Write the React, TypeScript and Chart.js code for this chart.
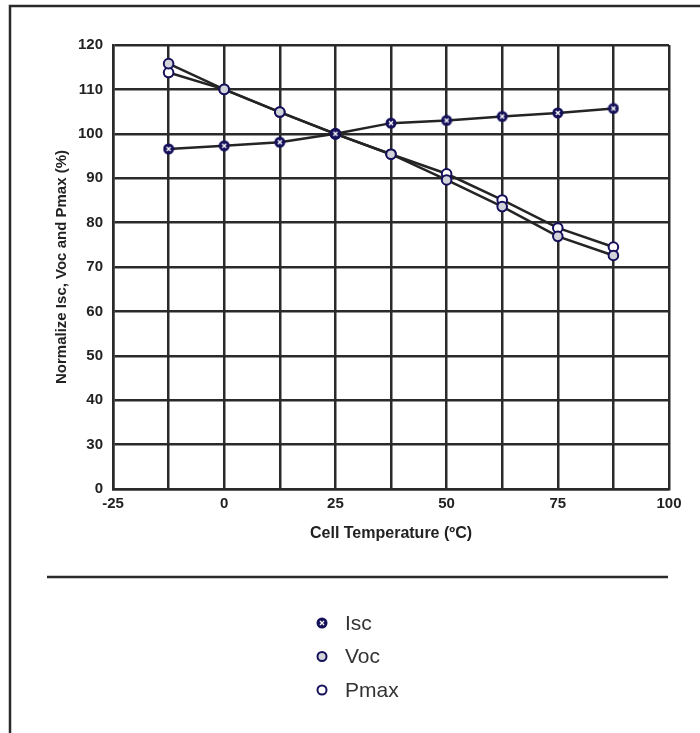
import React, { useEffect, useRef } from 'react';
import { Chart, registerables } from 'chart.js';

Chart.register(...registerables);

// ---- data ----
const temperatures = [-12.5, 0, 12.5, 25, 37.5, 50, 62.5, 75, 87.5];
const iscValues = [96.6, 97.3, 98.1, 100, 102.4, 103.0, 103.9, 104.7, 105.7];
const vocValues = [115.8, 110, 104.9, 100, 95.4, 89.6, 83.6, 76.9, 72.6];
const pmaxValues = [113.8, 110, 104.9, 100, 95.4, 91.0, 85.1, 78.8, 74.5];
const seriesLabels = ['Isc', 'Voc', 'Pmax'];
const xTickLabels = ['-25', '', '0', '', '25', '', '50', '', '75', '', '100'];
const yTickLabels = ['0', '30', '40', '50', '60', '70', '80', '90', '100', '110', '120'];

const FONT = '"Liberation Sans", Arial, Helvetica, sans-serif';
const NAVY = '#15105a';
const LINE = '#242424';
const GRID = '#2a2a2a';

function makeIscMarker(): HTMLCanvasElement {
  const c = document.createElement('canvas');
  c.width = 12;
  c.height = 12;
  const g = c.getContext('2d')!;
  g.fillStyle = NAVY;
  g.beginPath();
  g.arc(6, 6, 5.5, 0, Math.PI * 2);
  g.fill();
  g.strokeStyle = '#ffffff';
  g.lineWidth = 1.4;
  g.beginPath();
  g.moveTo(4, 4);
  g.lineTo(8, 8);
  g.moveTo(8, 4);
  g.lineTo(4, 8);
  g.stroke();
  return c;
}

const framePlugin = {
  id: 'frame',
  beforeDraw(chart: any) {
    const ctx = chart.ctx;
    ctx.save();
    ctx.fillStyle = '#ffffff';
    ctx.fillRect(0, 0, chart.width, chart.height);
    ctx.strokeStyle = '#2a2a2a';
    ctx.lineWidth = 2.5;
    ctx.beginPath();
    ctx.moveTo(10, chart.height);
    ctx.lineTo(10, 6);
    ctx.lineTo(chart.width, 6);
    ctx.stroke();
    ctx.beginPath();
    ctx.moveTo(47, 577);
    ctx.lineTo(668, 577);
    ctx.stroke();
    ctx.restore();
  },
};

const legendPlugin = {
  id: 'vlegend',
  afterDraw(chart: any) {
    const ctx = chart.ctx;
    ctx.save();
    chart.data.datasets.forEach((ds: any, i: number) => {
      const y = 623 + i * 33.5;
      const x = 322;
      if (ds.pointStyle instanceof HTMLCanvasElement) {
        const im = ds.pointStyle;
        ctx.drawImage(im, x - im.width / 2, y - im.height / 2);
      } else {
        ctx.beginPath();
        ctx.arc(x, y, 4.5, 0, Math.PI * 2);
        ctx.fillStyle = ds.pointBackgroundColor;
        ctx.fill();
        ctx.lineWidth = 2;
        ctx.strokeStyle = ds.pointBorderColor;
        ctx.stroke();
      }
      ctx.fillStyle = '#333333';
      ctx.font = `21px ${FONT}`;
      ctx.textBaseline = 'middle';
      ctx.textAlign = 'left';
      ctx.fillText(ds.label, 345, y + 1);
    });
    ctx.restore();
  },
};

export default function App() {
  const ref = useRef<HTMLCanvasElement | null>(null);

  useEffect(() => {
    document.body.style.margin = '0';
    const canvas = ref.current;
    if (!canvas) return;
    const iscMarker = makeIscMarker();
    const mk = (vals: number[]) => temperatures.map((t, i) => ({ x: t, y: vals[i] }));

    const chart = new Chart(canvas, {
      type: 'line',
      data: {
        datasets: [
          {
            label: seriesLabels[0],
            data: mk(iscValues),
            borderColor: LINE,
            borderWidth: 2.5,
            pointStyle: iscMarker as any,
            pointBackgroundColor: NAVY,
            pointBorderColor: NAVY,
            pointRadius: 5.5,
            tension: 0,
          },
          {
            label: seriesLabels[1],
            data: mk(vocValues),
            borderColor: LINE,
            borderWidth: 2.5,
            pointStyle: 'circle',
            pointBackgroundColor: '#d2d4d9',
            pointBorderColor: NAVY,
            pointBorderWidth: 2,
            pointRadius: 4.8,
            tension: 0,
          },
          {
            label: seriesLabels[2],
            data: mk(pmaxValues),
            borderColor: LINE,
            borderWidth: 2.5,
            pointStyle: 'circle',
            pointBackgroundColor: '#ffffff',
            pointBorderColor: NAVY,
            pointBorderWidth: 2,
            pointRadius: 4.8,
            tension: 0,
          },
        ],
      },
      options: {
        animation: false,
        responsive: false,
        layout: { padding: { left: 53, top: 45, right: 31, bottom: 190 } },
        plugins: {
          legend: { display: false },
          tooltip: { enabled: false },
        },
        scales: {
          x: {
            type: 'linear',
            min: -25,
            max: 100,
            afterFit: (s: any) => {
              s.height = 54;
            },
            afterBuildTicks: (s: any) => {
              s.ticks = xTickLabels.map((_, i) => ({ value: -25 + i * 12.5 }));
            },
            ticks: {
              autoSkip: false,
              maxRotation: 0,
              padding: 6,
              color: '#222222',
              font: { family: FONT, size: 15, weight: 'bold' },
              callback: (_v: any, i: number) => xTickLabels[i],
            },
            grid: { color: GRID, lineWidth: 2.5, drawTicks: false },
            border: { color: GRID, width: 2.5 },
            title: {
              display: true,
              text: 'Cell Temperature (ºC)',
              color: '#222222',
              padding: 0,
              font: { family: FONT, size: 16, weight: 'bold' },
            },
          },
          y: {
            type: 'linear',
            min: 20,
            max: 120,
            afterFit: (s: any) => {
              s.width = 60;
            },
            afterBuildTicks: (s: any) => {
              s.ticks = yTickLabels.map((_, i) => ({ value: 20 + i * 10 }));
            },
            ticks: {
              autoSkip: false,
              padding: 10,
              color: '#222222',
              font: { family: FONT, size: 15, weight: 'bold' },
              callback: (_v: any, i: number) => yTickLabels[i],
            },
            grid: { color: GRID, lineWidth: 2.5, drawTicks: false },
            border: { color: GRID, width: 2.5 },
            title: {
              display: true,
              text: 'Normalize Isc, Voc and Pmax (%)',
              color: '#222222',
              padding: 0,
              font: { family: FONT, size: 15, weight: 'bold' },
            },
          },
        },
      },
      plugins: [framePlugin, legendPlugin],
    });
    return () => chart.destroy();
  }, []);

  return (
    <div style={{ width: 700, height: 733 }}>
      <canvas ref={ref} width={700} height={733} style={{ display: 'block' }} />
    </div>
  );
}
